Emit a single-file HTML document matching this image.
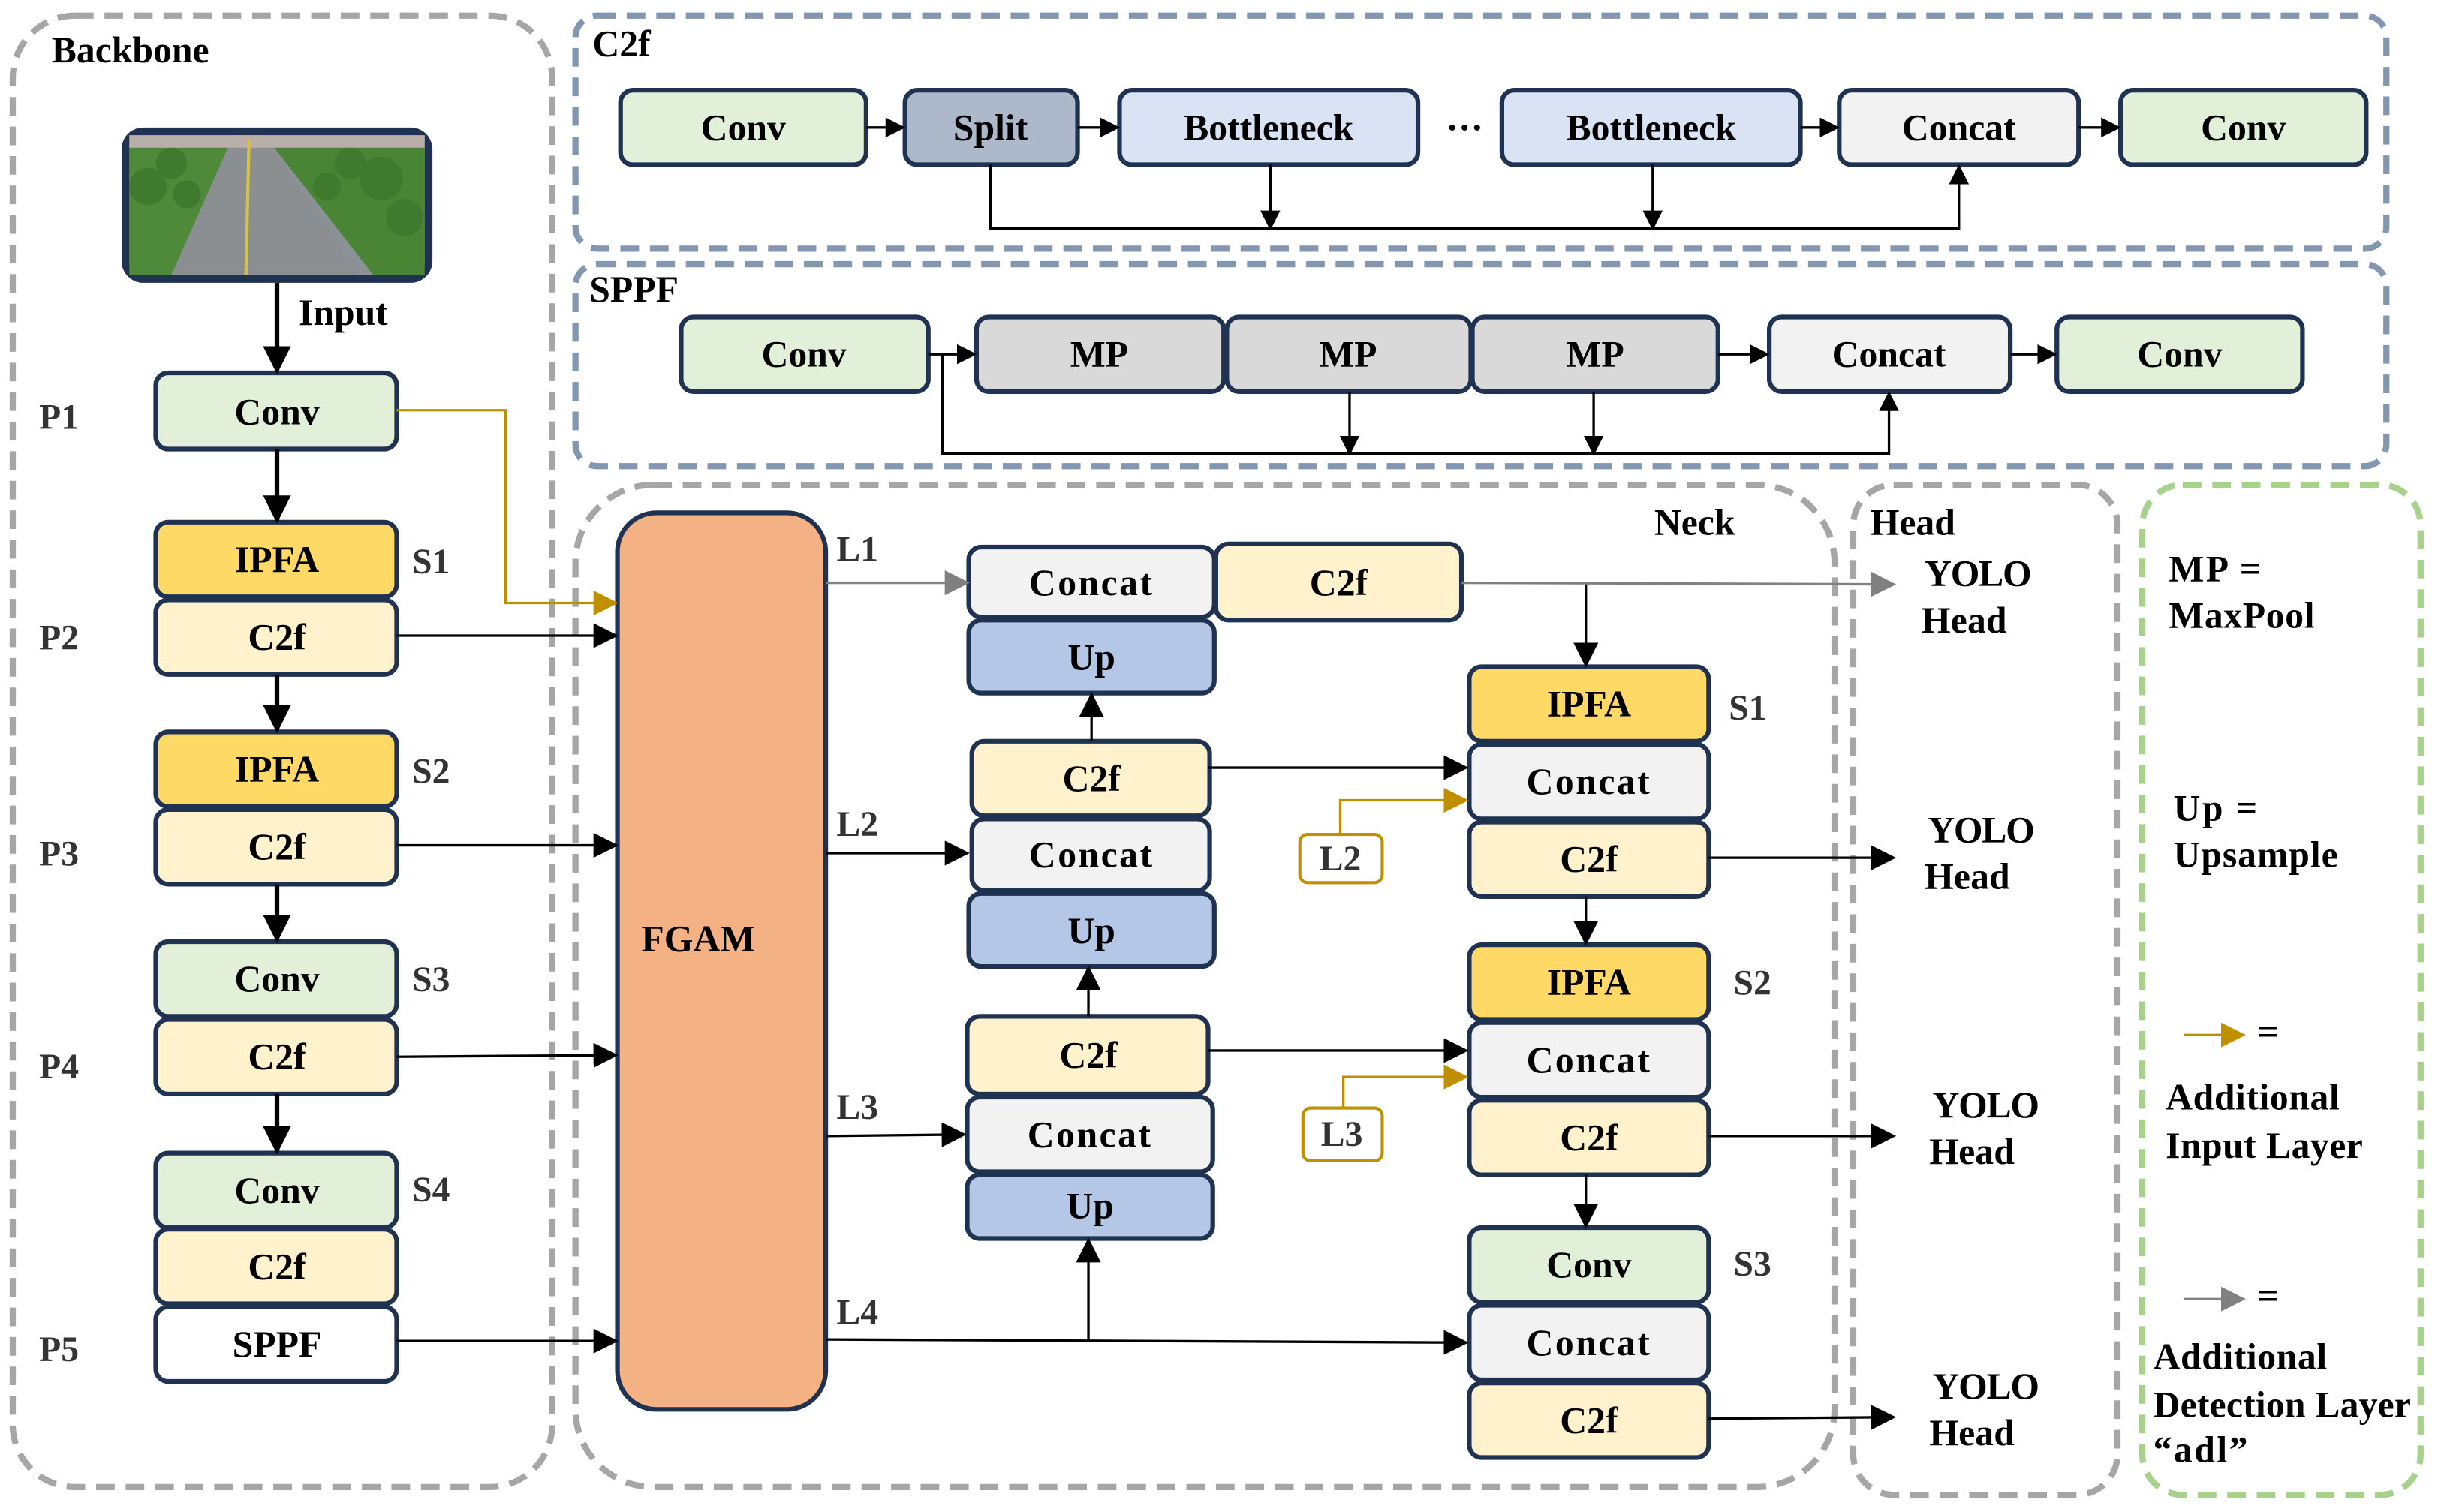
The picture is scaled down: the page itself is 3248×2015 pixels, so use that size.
<!DOCTYPE html>
<html><head><meta charset="utf-8"><style>
html,body{margin:0;padding:0;background:#fff}
svg{display:block}
text{font-family:"Liberation Serif",serif;font-weight:bold;font-size:24px;fill:#000}
.n{text-anchor:middle;dominant-baseline:central}
.lb{fill:#333;font-size:23px}
.w{letter-spacing:1.2px}
</style></head><body>
<svg width="3248" height="2015" viewBox="0 0 1568 973" xmlns="http://www.w3.org/2000/svg">
<defs>
<marker id="ab" viewBox="0 0 10 10" refX="9" refY="5" markerWidth="6" markerHeight="6" orient="auto"><path d="M0,0L10,5L0,10z" fill="#000"/></marker>
<marker id="at" viewBox="0 0 10 10" refX="9" refY="5" markerWidth="10" markerHeight="10" orient="auto"><path d="M0,0L10,5L0,10z" fill="#000"/></marker>
<marker id="ab2" viewBox="0 0 10 10" refX="9" refY="5" markerWidth="8" markerHeight="8" orient="auto"><path d="M0,0L10,5L0,10z" fill="#000"/></marker>
<marker id="ag" viewBox="0 0 10 10" refX="9" refY="5" markerWidth="10" markerHeight="10" orient="auto"><path d="M0,0L10,5L0,10z" fill="#808080"/></marker>
<marker id="ao" viewBox="0 0 10 10" refX="9" refY="5" markerWidth="10" markerHeight="10" orient="auto"><path d="M0,0L10,5L0,10z" fill="#bf8f00"/></marker>
</defs>
<g fill="none" stroke-width="4" stroke-dasharray="12,7">
<rect x="8" y="10" width="347" height="947" rx="40" stroke="#a6a6a6"/>
<rect x="370" y="10" width="1165" height="150" rx="14" stroke="#8497b0"/>
<rect x="370" y="170" width="1165" height="130" rx="14" stroke="#8497b0"/>
<rect x="370" y="312" width="810" height="645" rx="50" stroke="#a6a6a6"/>
<rect x="1192" y="312" width="170" height="650" rx="26" stroke="#a6a6a6"/>
<rect x="1378" y="312" width="179" height="650" rx="26" stroke="#a9d18e"/>
</g>
<text x="33" y="40">Backbone</text>
<text x="381" y="36">C2f</text>
<text x="379" y="194">SPPF</text>
<text x="1064" y="344">Neck</text>
<text x="1203" y="344">Head</text>
<!-- image -->
<rect x="78" y="82" width="200" height="100" rx="14" fill="#1f3251"/>
<rect x="83" y="87" width="190" height="90" rx="8" fill="#8a9296"/>
<path d="M150,87 L170,87 L230,177 L95,177z" fill="#8c8f92"/>
<path d="M83,87 L150,87 L110,177 L83,177z" fill="#4f8a3a"/>
<path d="M170,87 L273,87 L273,177 L240,177z" fill="#4a8535"/>
<rect x="83" y="87" width="190" height="8" fill="#b8b0a8"/>
<g fill="#3f7a2e"><circle cx="95" cy="120" r="12"/><circle cx="110" cy="105" r="10"/><circle cx="120" cy="125" r="9"/><circle cx="245" cy="115" r="14"/><circle cx="225" cy="105" r="10"/><circle cx="260" cy="140" r="12"/><circle cx="210" cy="120" r="9"/></g>
<line x1="160" y1="90" x2="158" y2="177" stroke="#d6c14a" stroke-width="2"/>
<g stroke="#1f3251" stroke-width="3">
<rect x="100" y="240" width="155" height="49" rx="8" fill="#e2efd9"/>
<rect x="100" y="336" width="155" height="48" rx="8" fill="#ffd966"/>
<rect x="100" y="386" width="155" height="48" rx="8" fill="#fff2cc"/>
<rect x="100" y="471" width="155" height="48" rx="8" fill="#ffd966"/>
<rect x="100" y="521" width="155" height="48" rx="8" fill="#fff2cc"/>
<rect x="100" y="606" width="155" height="48" rx="8" fill="#e2efd9"/>
<rect x="100" y="656" width="155" height="48" rx="8" fill="#fff2cc"/>
<rect x="100" y="742" width="155" height="48" rx="8" fill="#e2efd9"/>
<rect x="100" y="791" width="155" height="48" rx="8" fill="#fff2cc"/>
<rect x="100" y="841" width="155" height="48" rx="8" fill="#fff"/>
<rect x="397" y="330" width="134" height="577" rx="25" fill="#f4b183"/>
<rect x="623" y="352" width="158" height="45" rx="8" fill="#f2f2f2"/>
<rect x="623" y="399" width="158" height="47" rx="8" fill="#b4c7e7"/>
<rect x="782" y="350" width="158" height="49" rx="8" fill="#fff2cc"/>
<rect x="625" y="477" width="153" height="48" rx="8" fill="#fff2cc"/>
<rect x="625" y="527" width="153" height="46" rx="8" fill="#f2f2f2"/>
<rect x="623" y="575" width="158" height="47" rx="8" fill="#b4c7e7"/>
<rect x="622" y="654" width="155" height="50" rx="8" fill="#fff2cc"/>
<rect x="622" y="706" width="158" height="48" rx="8" fill="#f2f2f2"/>
<rect x="622" y="756" width="158" height="41" rx="8" fill="#b4c7e7"/>
<rect x="945" y="429" width="154" height="48" rx="8" fill="#ffd966"/>
<rect x="945" y="479" width="154" height="48" rx="8" fill="#f2f2f2"/>
<rect x="945" y="529" width="154" height="48" rx="8" fill="#fff2cc"/>
<rect x="945" y="608" width="154" height="48" rx="8" fill="#ffd966"/>
<rect x="945" y="658" width="154" height="48" rx="8" fill="#f2f2f2"/>
<rect x="945" y="708" width="154" height="48" rx="8" fill="#fff2cc"/>
<rect x="945" y="790" width="154" height="48" rx="8" fill="#e2efd9"/>
<rect x="945" y="840" width="154" height="48" rx="8" fill="#f2f2f2"/>
<rect x="945" y="890" width="154" height="48" rx="8" fill="#fff2cc"/>
<rect x="399" y="58" width="158" height="48" rx="8" fill="#e2efd9"/>
<rect x="582" y="58" width="111" height="48" rx="8" fill="#adb9ca"/>
<rect x="720" y="58" width="192" height="48" rx="8" fill="#dae3f3"/>
<rect x="966" y="58" width="192" height="48" rx="8" fill="#dae3f3"/>
<rect x="1183" y="58" width="154" height="48" rx="8" fill="#f2f2f2"/>
<rect x="1364" y="58" width="158" height="48" rx="8" fill="#e2efd9"/>
<rect x="438" y="204" width="159" height="48" rx="8" fill="#e2efd9"/>
<rect x="628" y="204" width="159" height="48" rx="8" fill="#d9d9d9"/>
<rect x="789" y="204" width="157" height="48" rx="8" fill="#d9d9d9"/>
<rect x="947" y="204" width="158" height="48" rx="8" fill="#d9d9d9"/>
<rect x="1138" y="204" width="155" height="48" rx="8" fill="#f2f2f2"/>
<rect x="1323" y="204" width="158" height="48" rx="8" fill="#e2efd9"/>
</g>
<g stroke="#bf8f00" stroke-width="2" fill="#fff">
<rect x="836" y="537" width="53" height="31" rx="5"/>
<rect x="838" y="713" width="51" height="34" rx="5"/>
</g>
<g stroke="#000" stroke-width="3" fill="none" marker-end="url(#ab)">
<line x1="178" y1="182" x2="178" y2="239"/>
<line x1="178" y1="289" x2="178" y2="335"/>
<line x1="178" y1="434" x2="178" y2="470"/>
<line x1="178" y1="569" x2="178" y2="605"/>
<line x1="178" y1="704" x2="178" y2="741"/>
</g>
<g stroke="#000" stroke-width="1.6" fill="none" marker-end="url(#at)">
<line x1="255" y1="409" x2="396" y2="409"/>
<line x1="255" y1="544" x2="396" y2="544"/>
<line x1="255" y1="680" x2="396" y2="679"/>
<line x1="255" y1="863" x2="396" y2="863"/>
<line x1="531" y1="549" x2="622" y2="549"/>
<line x1="531" y1="731" x2="620" y2="730"/>
<line x1="531" y1="862" x2="943" y2="864"/>
<line x1="700" y1="863" x2="700" y2="798"/>
<line x1="702" y1="477" x2="702" y2="447"/>
<line x1="700" y1="654" x2="700" y2="623"/>
<line x1="777" y1="494" x2="943" y2="494"/>
<line x1="777" y1="676" x2="943" y2="676"/>
<line x1="1020" y1="375" x2="1020" y2="428"/>
<line x1="1020" y1="577" x2="1020" y2="607"/>
<line x1="1020" y1="756" x2="1020" y2="789"/>
<line x1="1099" y1="552" x2="1218" y2="552"/>
<line x1="1099" y1="731" x2="1218" y2="731"/>
<line x1="1099" y1="913" x2="1218" y2="912"/>
</g>
<g stroke="#000" stroke-width="1.6" fill="none" marker-end="url(#ab2)">
<line x1="557" y1="82" x2="581" y2="82"/>
<line x1="693" y1="82" x2="719" y2="82"/>
<line x1="1158" y1="82" x2="1182" y2="82"/>
<line x1="1337" y1="82" x2="1363" y2="82"/>
<line x1="817" y1="106" x2="817" y2="147"/>
<line x1="1063" y1="106" x2="1063" y2="147"/>
<polyline points="637,106 637,147 1260,147 1260,107"/>
<line x1="597" y1="228" x2="627" y2="228"/>
<line x1="1105" y1="228" x2="1137" y2="228"/>
<line x1="1293" y1="228" x2="1322" y2="228"/>
<line x1="868" y1="252" x2="868" y2="292"/>
<line x1="1025" y1="252" x2="1025" y2="292"/>
<polyline points="606,228 606,292 1215,292 1215,253"/>
</g>
<g stroke="#808080" stroke-width="1.6" fill="none" marker-end="url(#ag)">
<line x1="531" y1="375" x2="622" y2="375"/>
<line x1="940" y1="375" x2="1218" y2="376"/>
<line x1="1405" y1="836" x2="1443" y2="836"/>
</g>
<g stroke="#bf8f00" stroke-width="1.6" fill="none" marker-end="url(#ao)">
<polyline points="255,264 325,264 325,388 396,388"/>
<polyline points="862,537 862,515 943,515"/>
<polyline points="864,713 864,693 943,693"/>
<line x1="1405" y1="666" x2="1443" y2="666"/>
</g>
<g>
<text x="178" y="265" class="n">Conv</text>
<text x="178" y="360" class="n">IPFA</text>
<text x="178" y="410" class="n">C2f</text>
<text x="178" y="495" class="n">IPFA</text>
<text x="178" y="545" class="n">C2f</text>
<text x="178" y="630" class="n">Conv</text>
<text x="178" y="680" class="n">C2f</text>
<text x="178" y="766" class="n">Conv</text>
<text x="178" y="815" class="n">C2f</text>
<text x="178" y="865" class="n">SPPF</text>
<text x="449" y="604" class="n">FGAM</text>
<text x="702" y="375" class="n w">Concat</text>
<text x="702" y="423" class="n">Up</text>
<text x="861" y="375" class="n">C2f</text>
<text x="702" y="501" class="n">C2f</text>
<text x="702" y="550" class="n w">Concat</text>
<text x="702" y="599" class="n">Up</text>
<text x="700" y="679" class="n">C2f</text>
<text x="701" y="730" class="n w">Concat</text>
<text x="701" y="776" class="n">Up</text>
<text x="1022" y="453" class="n">IPFA</text>
<text x="1022" y="503" class="n w">Concat</text>
<text x="1022" y="553" class="n">C2f</text>
<text x="1022" y="632" class="n">IPFA</text>
<text x="1022" y="682" class="n w">Concat</text>
<text x="1022" y="732" class="n">C2f</text>
<text x="1022" y="814" class="n">Conv</text>
<text x="1022" y="864" class="n w">Concat</text>
<text x="1022" y="914" class="n">C2f</text>
<text x="862" y="553" class="n lb">L2</text>
<text x="863" y="730" class="n lb">L3</text>
<text x="478" y="82" class="n">Conv</text>
<text x="637" y="82" class="n">Split</text>
<text x="816" y="82" class="n">Bottleneck</text>
<text x="942" y="82" class="n">···</text>
<text x="1062" y="82" class="n">Bottleneck</text>
<text x="1260" y="82" class="n">Concat</text>
<text x="1443" y="82" class="n">Conv</text>
<text x="517" y="228" class="n">Conv</text>
<text x="707" y="228" class="n">MP</text>
<text x="867" y="228" class="n">MP</text>
<text x="1026" y="228" class="n">MP</text>
<text x="1215" y="228" class="n">Concat</text>
<text x="1402" y="228" class="n">Conv</text>
</g>
<text x="192" y="209">Input</text>
<g>
<text x="25" y="276" class="lb">P1</text>
<text x="25" y="418" class="lb">P2</text>
<text x="25" y="557" class="lb">P3</text>
<text x="25" y="694" class="lb">P4</text>
<text x="25" y="876" class="lb">P5</text>
<text x="265" y="369" class="lb">S1</text>
<text x="265" y="504" class="lb">S2</text>
<text x="265" y="638" class="lb">S3</text>
<text x="265" y="773" class="lb">S4</text>
<text x="538" y="361" class="lb">L1</text>
<text x="538" y="538" class="lb">L2</text>
<text x="538" y="720" class="lb">L3</text>
<text x="538" y="852" class="lb">L4</text>
<text x="1112" y="463" class="lb">S1</text>
<text x="1115" y="640" class="lb">S2</text>
<text x="1115" y="821" class="lb">S3</text>
</g>
<g class="w">
<text x="1238" y="377" textLength="70">YOLO</text><text x="1236" y="407" textLength="56">Head</text>
<text x="1240" y="542" textLength="70">YOLO</text><text x="1238" y="572" textLength="56">Head</text>
<text x="1243" y="719" textLength="70">YOLO</text><text x="1241" y="749" textLength="56">Head</text>
<text x="1243" y="900" textLength="70">YOLO</text><text x="1241" y="930" textLength="56">Head</text>
<text x="1395" y="374">MP  =</text><text x="1395" y="404" textLength="95">MaxPool</text>
<text x="1398" y="528">Up =</text><text x="1398" y="558" textLength="107">Upsample</text>
<text x="1452" y="672">=</text>
<text x="1393" y="714" textLength="113">Additional</text><text x="1393" y="745" textLength="128">Input Layer</text>
<text x="1452" y="842">=</text>
<text x="1385" y="881" textLength="113">Additional</text><text x="1385" y="912" textLength="167">Detection Layer</text><text x="1385" y="941">“adl”</text>
</g>
</svg>
</body></html>
